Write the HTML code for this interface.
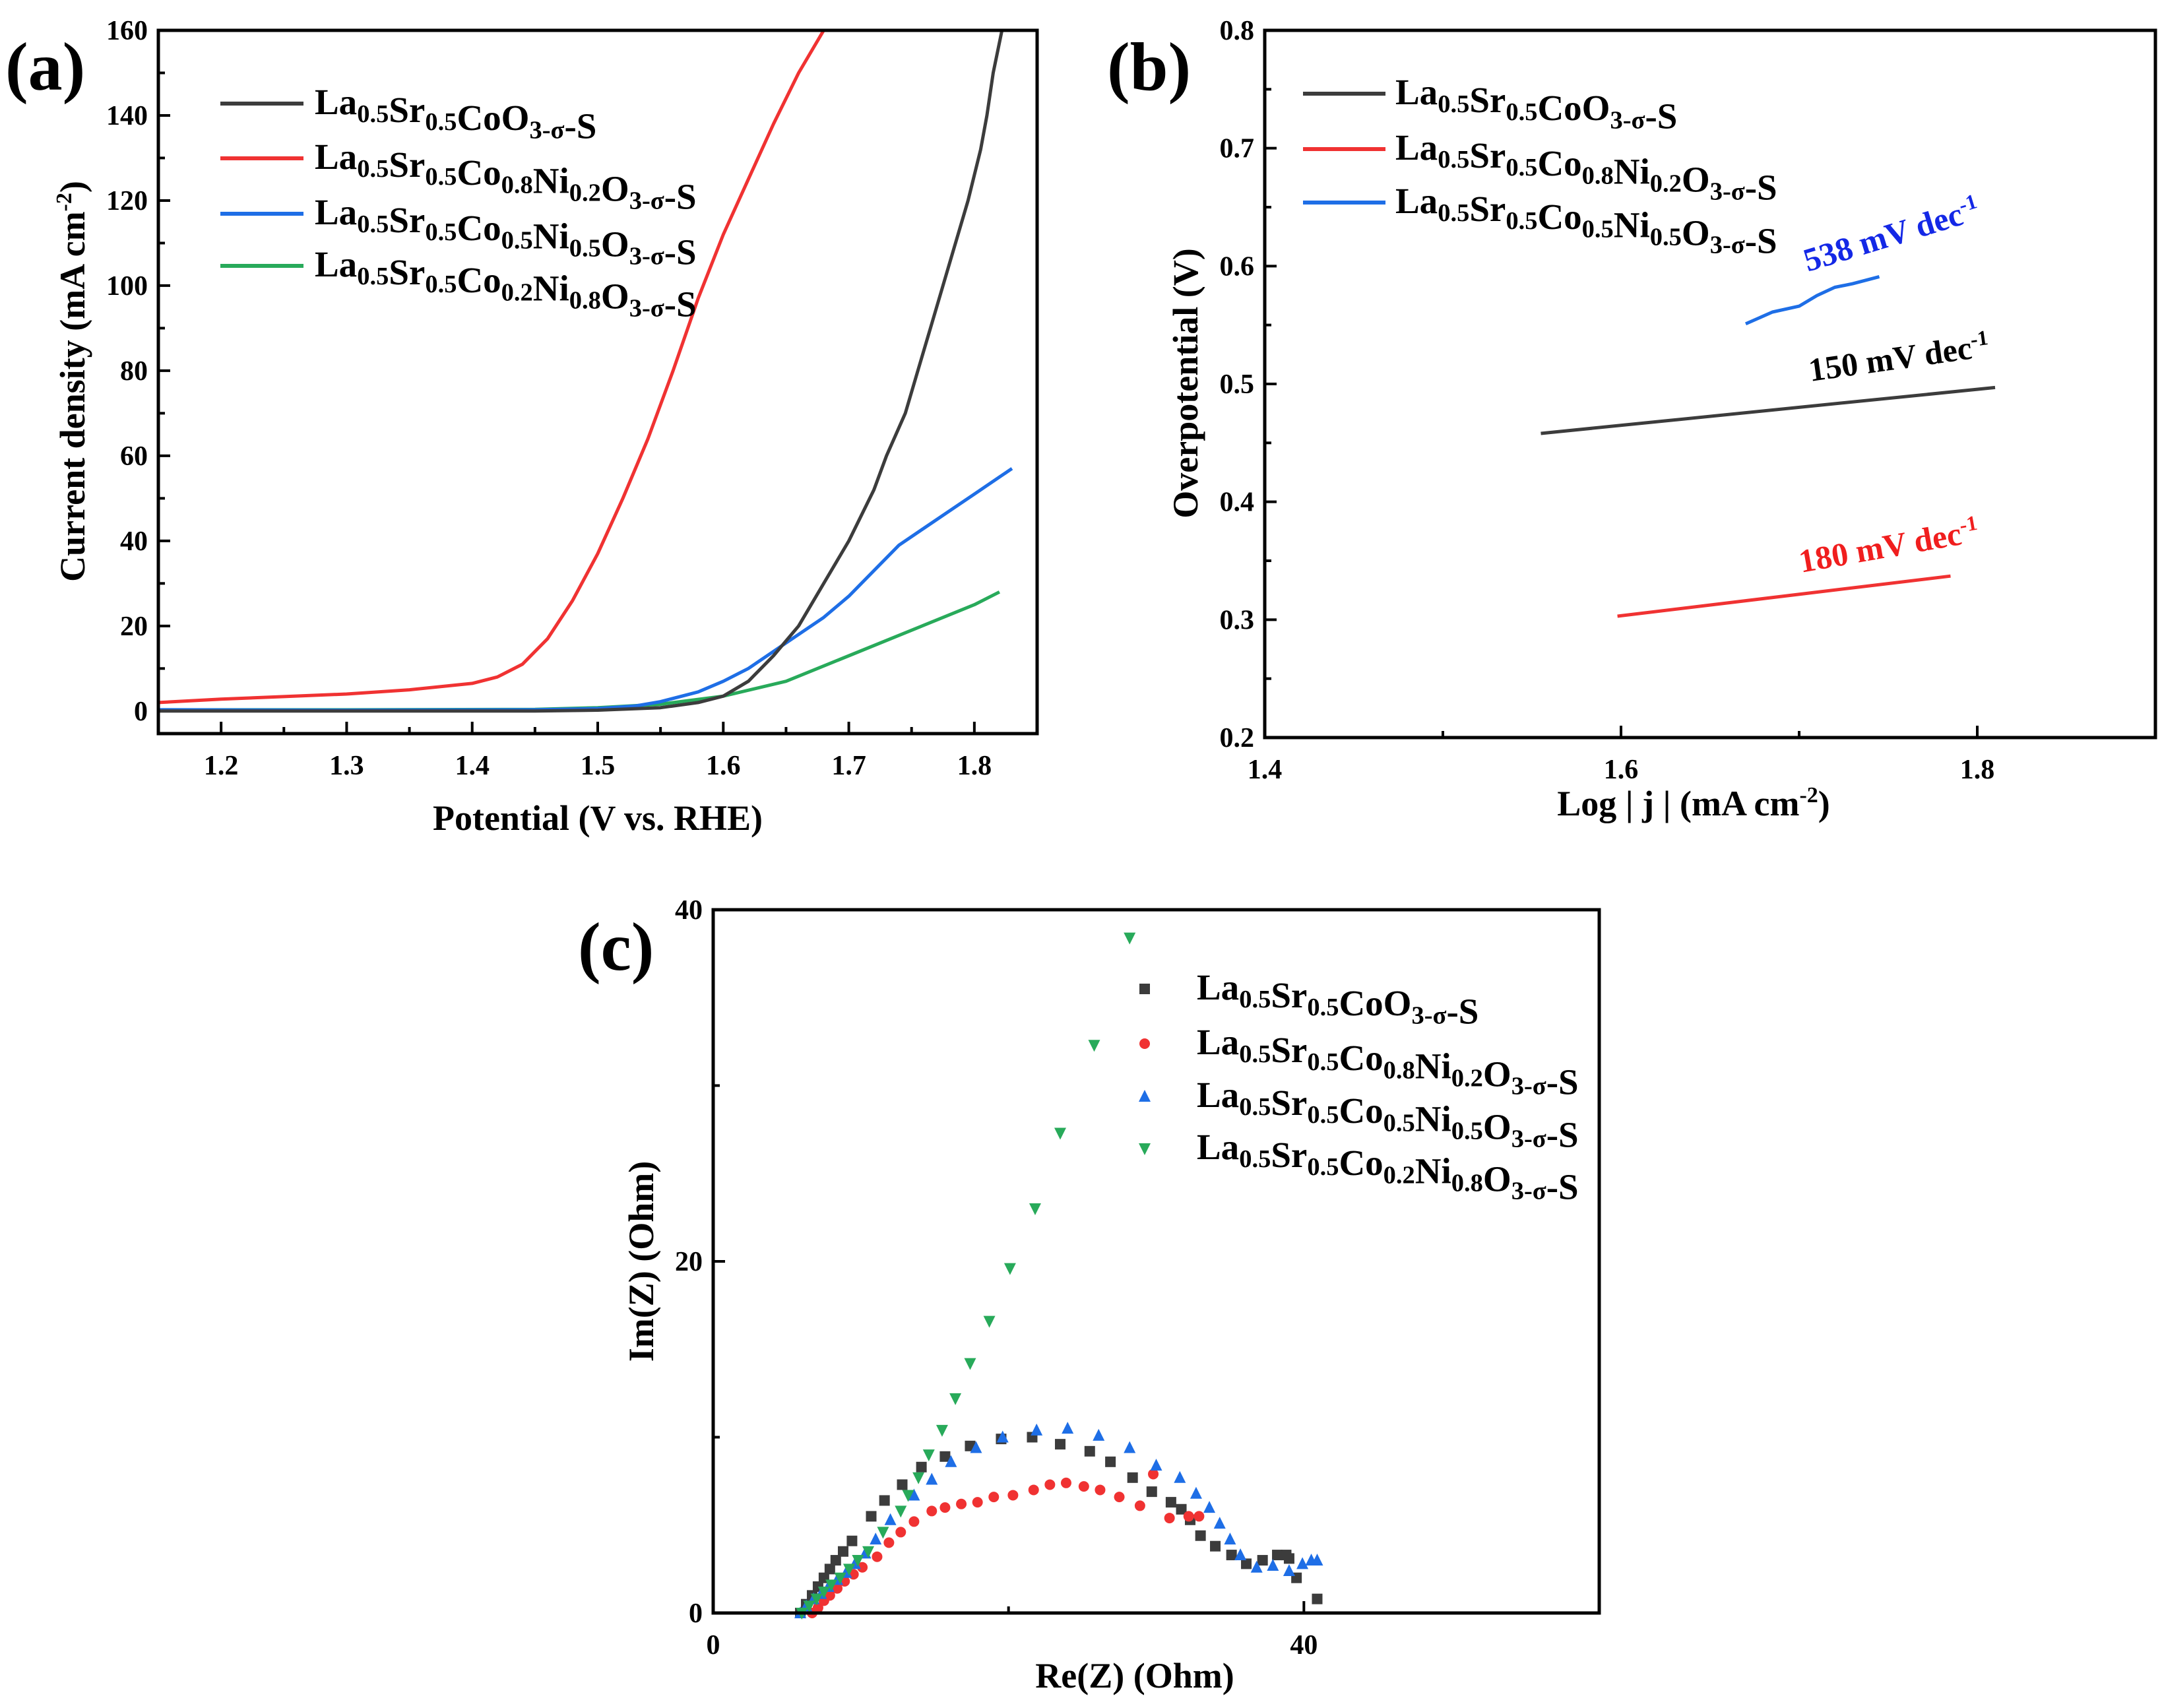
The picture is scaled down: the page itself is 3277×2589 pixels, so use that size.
<!DOCTYPE html>
<html><head><meta charset="utf-8">
<style>
html,body{margin:0;padding:0;background:#fff;overflow:hidden;}
svg{display:block;font-family:"Liberation Serif","DejaVu Serif",serif;font-weight:bold;}
</style></head>
<body>
<svg id="fig" width="3277" height="2589" viewBox="0 0 3277 2589" xmlns="http://www.w3.org/2000/svg">
<rect width="3277" height="2589" fill="#fff"/>
</svg>
<script>
// ---------- data: panel (a) LSV ----------
const aBlackX=[1.15,1.3,1.45,1.5,1.55,1.58,1.6,1.62,1.64,1.66,1.68,1.70,1.72,1.73,1.745,1.755,1.765,1.775,1.785,1.795,1.805,1.81,1.815,1.822];
const aBlackY=[0,0,0,0.2,0.8,2,3.5,7,13,20,30,40,52,60,70,80,90,100,110,120,132,140,150,160];
const aRedX=[1.15,1.2,1.25,1.3,1.35,1.4,1.42,1.44,1.46,1.48,1.5,1.52,1.54,1.56,1.58,1.6,1.62,1.64,1.66,1.68];
const aRedY=[2,2.8,3.4,4,5,6.5,8,11,17,26,37,50,64,80,97,112,125,138,150,160];
const aBlueX=[1.15,1.3,1.45,1.5,1.53,1.55,1.58,1.6,1.62,1.65,1.68,1.7,1.72,1.74,1.76,1.78,1.8,1.82,1.83];
const aBlueY=[0.3,0.2,0.3,0.6,1.2,2.2,4.5,7,10,16,22,27,33,39,43,47,51,55,57];
const aGreenX=[1.15,1.3,1.45,1.5,1.55,1.6,1.65,1.7,1.75,1.8,1.82];
const aGreenY=[0.3,0.3,0.4,0.8,1.6,3.5,7,13,19,25,28];
// ---------- data: panel (b) Tafel ----------
const bBlackX=[1.555,1.81]; const bBlackY=[0.458,0.497];
const bRedX=[1.598,1.785];  const bRedY=[0.303,0.337];
const bBlueX=[1.67,1.685,1.70,1.71,1.72,1.73,1.745]; const bBlueY=[0.551,0.561,0.566,0.575,0.582,0.585,0.591];
// ---------- data: panel (c) Nyquist ----------
const cBlackX=[5.9,6.3,6.7,7.1,7.5,7.9,8.3,8.8,9.4,10.7,11.6,12.8,14.1,15.7,17.4,19.5,21.6,23.5,25.5,26.9,28.4,29.7,31.0,31.7,32.3,33.0,34.0,35.1,36.1,37.2,38.2,38.8,39.0,39.5,40.9];
const cBlackY=[0,0.5,1.0,1.5,2.0,2.5,3.0,3.5,4.1,5.5,6.4,7.3,8.3,8.9,9.5,9.9,10.0,9.6,9.2,8.6,7.7,6.9,6.3,5.9,5.3,4.4,3.8,3.3,2.8,3.0,3.3,3.3,3.1,2.0,0.8];
const cRedX=[6.7,7.1,7.5,7.9,8.4,8.9,9.5,10.1,11.1,11.9,12.7,13.6,14.8,15.7,16.8,17.9,19.0,20.3,21.7,22.8,23.9,25.1,26.2,27.5,28.9,29.8,30.9,32.2,32.9];
const cRedY=[0,0.3,0.7,1.0,1.4,1.8,2.2,2.6,3.2,4.0,4.6,5.2,5.8,6.0,6.2,6.3,6.6,6.7,7.0,7.3,7.4,7.2,7.0,6.6,6.1,7.9,5.4,5.5,5.5];
const cBlueX=[5.9,6.3,6.8,7.3,7.8,8.4,9.0,9.6,10.3,11.0,12.0,13.6,14.8,16.1,17.8,19.6,21.9,24.0,26.1,28.2,30.0,31.6,32.7,33.6,34.3,35.0,35.7,36.8,37.9,39.0,39.9,40.5,40.9];
const cBlueY=[0,0.4,0.8,1.1,1.5,1.9,2.3,2.8,3.4,4.2,5.3,6.7,7.6,8.6,9.4,10.0,10.4,10.5,10.1,9.4,8.4,7.7,6.8,6.0,5.1,4.2,3.3,2.6,2.7,2.4,2.8,3.0,3.0];
const cGreenX=[6.0,6.5,7.0,7.5,8.0,8.6,9.2,9.8,10.5,11.5,12.7,13.2,13.9,14.6,15.5,16.4,17.4,18.7,20.1,21.8,23.5,25.8,28.2];
const cGreenY=[0,0.4,0.8,1.2,1.6,2.0,2.5,3.0,3.5,4.6,5.8,6.7,7.7,9.0,10.4,12.2,14.2,16.6,19.6,23.0,27.3,32.3,38.4];
const aXTicks=[1.2,1.3,1.4,1.5,1.6,1.7,1.8]; const aYTicks=[0,20,40,60,80,100,120,140,160];
const bXTicks=[1.4,1.6,1.8]; const bYTicks=[0.2,0.3,0.4,0.5,0.6,0.7,0.8];
const cXTicks=[0,40]; const cYTicks=[0,20,40];

const NS='http://www.w3.org/2000/svg';
const svg=document.getElementById('fig');
function el(tag,attrs,parent){const e=document.createElementNS(NS,tag);for(const k in attrs)e.setAttribute(k,attrs[k]);(parent||svg).appendChild(e);return e;}
function axis(x0,x1,y0,y1,L,R,T,B){return {sx:v=>L+(v-x0)/(x1-x0)*(R-L),sy:v=>B-(v-y0)/(y1-y0)*(B-T),L,R,T,B};}
function frame(ax,name){const r=el('rect',{x:ax.L,y:ax.T,width:ax.R-ax.L,height:ax.B-ax.T,fill:'none',stroke:'#000','stroke-width':5});
}
function ticks(ax,xt,yt,fx,fy,name,xminor,yminor){
 const g=el('g',{});
 xt.forEach(v=>{const x=ax.sx(v);el('line',{x1:x,x2:x,y1:ax.B,y2:ax.B-18,stroke:'#000','stroke-width':4},g);
  const t=el('text',{x:x,y:ax.B+62,'text-anchor':'middle','font-size':42},g);t.textContent=fx(v);});
 yt.forEach(v=>{const y=ax.sy(v);el('line',{x1:ax.L,x2:ax.L+18,y1:y,y2:y,stroke:'#000','stroke-width':4},g);
  const t=el('text',{x:ax.L-16,y:y+14,'text-anchor':'end','font-size':42},g);t.textContent=fy(v);});
 (xminor||[]).forEach(v=>{const x=ax.sx(v);el('line',{x1:x,x2:x,y1:ax.B,y2:ax.B-10,stroke:'#000','stroke-width':4},g);});
 (yminor||[]).forEach(v=>{const y=ax.sy(v);el('line',{x1:ax.L,x2:ax.L+10,y1:y,y2:y,stroke:'#000','stroke-width':4},g);});
}
function line(ax,xs,ys,color,name){const d=xs.map((x,i)=>(i?'L':'M')+ax.sx(x).toFixed(1)+','+ax.sy(ys[i]).toFixed(1)).join('');
 const p=el('path',{d:d,fill:'none',stroke:color,'stroke-width':5,'stroke-linejoin':'round'});
 }
function formula(x,y,parts,size,parent){const t=el('text',{x:x,y:y,'font-size':size},parent);
 parts.forEach(p=>{const s=el('tspan',{},t);s.textContent=p[0];if(p[1]){const u=el('tspan',{'font-size':size*0.7,dy:size*0.22},t);u.textContent=p[1];const r=el('tspan',{dy:-size*0.22},t);r.textContent='';}});return t;}
const F=[
 [['La','0.5'],['Sr','0.5'],['CoO','3-σ'],['-S']],
 [['La','0.5'],['Sr','0.5'],['Co','0.8'],['Ni','0.2'],['O','3-σ'],['-S']],
 [['La','0.5'],['Sr','0.5'],['Co','0.5'],['Ni','0.5'],['O','3-σ'],['-S']],
 [['La','0.5'],['Sr','0.5'],['Co','0.2'],['Ni','0.8'],['O','3-σ'],['-S']]];
const COL=['#3c3c3c','#f03232','#1e6ee6','#28aa5a'];
const LF=55;
function text(x,y,s,size,extra,name){const t=el('text',Object.assign({x:x,y:y,'font-size':size},extra||{}));t.textContent=s;
 return t;}
function supTitle(x,y,pre,sup,post,rot,name){const t=el('text',{x:0,y:0,'font-size':54,'text-anchor':'middle',transform:`translate(${x},${y}) rotate(${rot})`});
 
 const a=el('tspan',{},t);a.textContent=pre;const b=el('tspan',{'font-size':34,dy:-20},t);b.textContent=sup;const c=el('tspan',{dy:20},t);c.textContent=post;}

// ===== Panel (a)
const A=axis(1.15,1.85,-5.3,160,240,1572,46,1112);
ticks(A,aXTicks,aYTicks,v=>v.toFixed(1),v=>String(v),'panel-a',[1.25,1.35,1.45,1.55,1.65,1.75],[10,30,50,70,90,110,130,150]);
line(A,aGreenX,aGreenY,COL[3],'a-series-co02ni08');
line(A,aBlueX,aBlueY,COL[2],'a-series-co05ni05');
line(A,aBlackX,aBlackY,COL[0],'a-series-lsco');
line(A,aRedX,aRedY,COL[1],'a-series-co08ni02');
frame(A,'panel-a');
[157,240,324,403].forEach((y,i)=>{const g=el('g',{});
 el('line',{x1:334,x2:460,y1:y,y2:y,stroke:COL[i],'stroke-width':6},g);formula(477,y+16,F[i],LF,g);});
text(8,136,'(a)',104,{},'panel-a-label');
text(906,1258,'Potential (V vs. RHE)',54,{'text-anchor':'middle'},'a-x-axis-title');
supTitle(128,578,'Current density (mA cm','-2',')',-90,'a-y-axis-title');

// ===== Panel (b)
const Bx=axis(1.4,1.9,0.2,0.8,1917,3267,46,1118);
ticks(Bx,bXTicks,bYTicks,v=>v.toFixed(1),v=>v.toFixed(1),'panel-b',[1.5,1.7],[0.25,0.35,0.45,0.55,0.65,0.75]);
line(Bx,bBlackX,bBlackY,COL[0],'b-series-lsco');
line(Bx,bRedX,bRedY,COL[1],'b-series-co08ni02');
line(Bx,bBlueX,bBlueY,COL[2],'b-series-co05ni05');
frame(Bx,'panel-b');
[142,226,307].forEach((y,i)=>{const g=el('g',{});
 el('line',{x1:1975,x2:2100,y1:y,y2:y,stroke:COL[i],'stroke-width':6},g);formula(2115,y+16,F[i],LF,g);});
text(1678,136,'(b)',104,{},'panel-b-label');
function slope(x,y,rot,color,val,name){const t=el('text',{x:0,y:0,'font-size':50,fill:color,transform:`translate(${x},${y}) rotate(${rot})`});
 
 const a=el('tspan',{},t);a.textContent=val+' mV dec';const b=el('tspan',{'font-size':32,dy:-18},t);b.textContent='-1';}
slope(2740,412,-17,'#1428e6','538','b-slope-label-538');
slope(2744,578,-8,'#000','150','b-slope-label-150');
slope(2730,868,-10,'#f01e1e','180','b-slope-label-180');
supTitle(2567,1236,'Log | j |  (mA cm','-2',')',0,'b-x-axis-title');
text(0,0,'Overpotential (V)',54,{'text-anchor':'middle',transform:'translate(1815,581) rotate(-90)'},'b-y-axis-title');

// ===== Panel (c)
const C=axis(0,60,0,40,1081,2424,1379,2445);
ticks(C,cXTicks,cYTicks,v=>String(v),v=>String(v),'panel-c',[20],[10,30]);
function marker(x,y,shape,g){const s=8;
 if(shape==='sq')el('rect',{x:x-s,y:y-s,width:2*s,height:2*s},g);
 else if(shape==='ci')el('circle',{cx:x,cy:y,r:s},g);
 else if(shape==='up')el('polygon',{points:`${x},${y-s-2} ${x-s-1},${y+s} ${x+s+1},${y+s}`},g);
 else el('polygon',{points:`${x},${y+s+2} ${x-s-1},${y-s} ${x+s+1},${y-s}`},g);}
function scatter(xs,ys,color,shape,name){const g=el('g',{fill:color});
 xs.forEach((x,i)=>{marker(C.sx(x),C.sy(ys[i]),shape,g);});}
scatter(cBlackX,cBlackY,COL[0],'sq','c-series-lsco');
scatter(cRedX,cRedY,COL[1],'ci','c-series-co08ni02');
scatter(cBlueX,cBlueY,COL[2],'up','c-series-co05ni05');
scatter(cGreenX,cGreenY,COL[3],'dn','c-series-co02ni08');
frame(C,'panel-c');
const SH=['sq','ci','up','dn'];
[1499,1582,1662,1741].forEach((y,i)=>{const g=el('g',{fill:COL[i]});
 marker(1735,y,SH[i],g);const t=formula(1814,y+16,F[i],LF,g);t.setAttribute('fill','#000');});
text(876,1470,'(c)',104,{},'panel-c-label');
text(1720,2558,'Re(Z) (Ohm)',54,{'text-anchor':'middle'},'c-x-axis-title');
text(0,0,'Im(Z) (Ohm)',54,{'text-anchor':'middle',transform:'translate(990,1912) rotate(-90)'},'c-y-axis-title');
</script>
</body></html>
